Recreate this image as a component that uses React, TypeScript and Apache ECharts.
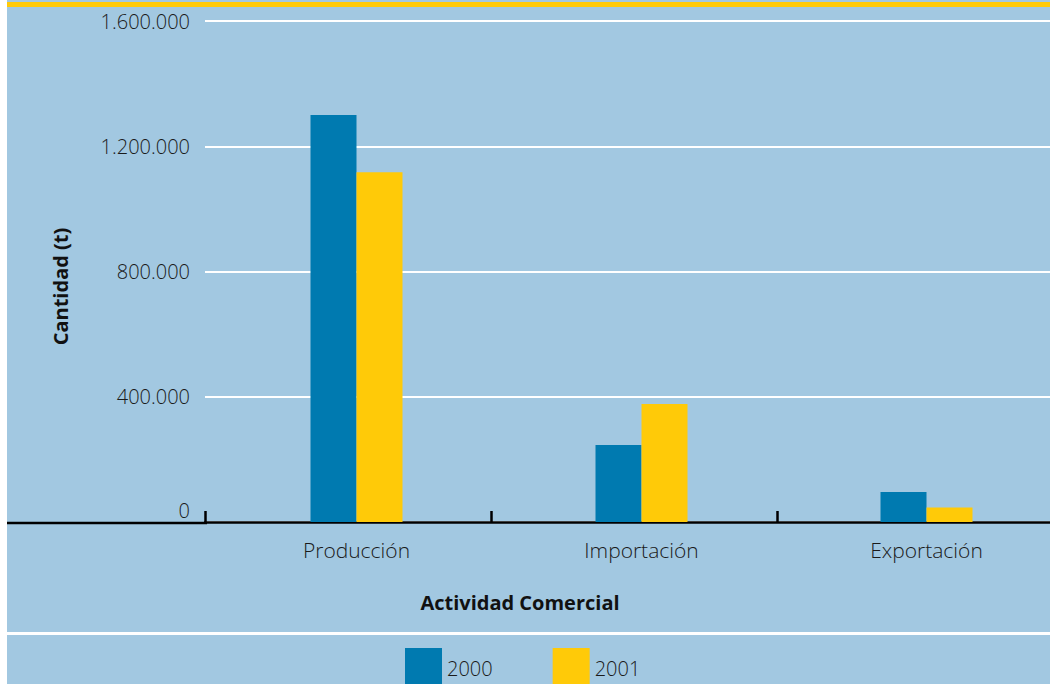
import React, { useEffect, useRef } from "react";
import * as echarts from "echarts";

const categories = ["Producción", "Importación", "Exportación"];
const seriesNames = ["2000", "2001"];
const values2000 = [1300000, 246000, 96000];
const values2001 = [1117000, 377000, 46000];
const yTicks = [0, 400000, 800000, 1200000, 1600000];

const BG = "#a2c8e1";
const BLUE = "#007ab0";
const YELLOW = "#ffca08";
const FONT = "'Open Sans', Lato, sans-serif";

function fmt(v: number): string {
  return String(Math.round(v)).replace(/\B(?=(\d{3})+(?!\d))/g, ".");
}

export default function App() {
  const ref = useRef<HTMLDivElement>(null);
  useEffect(() => {
    if (!ref.current) return;
    const chart = echarts.init(ref.current, undefined, { renderer: "svg" });
    const option: any = {
      animation: false,
      backgroundColor: BG,
      textStyle: { fontFamily: FONT },
      legend: {
        data: seriesNames,
        left: 398,
        top: 648,
        padding: 0,
        itemWidth: 37,
        itemHeight: 40,
        itemGap: 60,
        icon: "rect",
        textStyle: { fontSize: 20, color: "#1a1a1a", fontFamily: FONT, fontWeight: 300 },
      },
      graphic: [
        { type: "rect", shape: { x: 0, y: 2, width: 1043, height: 5 }, style: { fill: YELLOW }, silent: true },
        { type: "rect", shape: { x: 0, y: 632, width: 1043, height: 3 }, style: { fill: "#ffffff" }, silent: true },
        { type: "line", shape: { x1: 0, y1: 523, x2: 200, y2: 523 }, style: { stroke: "#000", lineWidth: 2.5 }, silent: true },
      ],
      grid: [
        { left: 207, top: 21, height: 501, width: 855, outerBoundsMode: "none", containLabel: false },
        { left: 198, top: 21, height: 501, width: 858, outerBoundsMode: "none", containLabel: false },
      ],
      xAxis: [
        {
          type: "category",
          gridIndex: 0,
          data: categories,
          axisLine: { show: false },
          axisTick: { show: false },
          axisLabel: { fontSize: 21, color: "#1a1a1a", margin: 17, fontFamily: FONT, fontWeight: 300 },
          name: "Actividad Comercial",
          nameLocation: "middle",
          nameGap: 70,
          nameTextStyle: {
            fontSize: 20,
            fontWeight: "bold",
            color: "#111",
            fontFamily: FONT,
            padding: [0, 243, 0, 0],
          },
        },
        {
          type: "category",
          gridIndex: 1,
          data: categories,
          boundaryGap: true,
          axisLine: { show: true, lineStyle: { color: "#000", width: 2.5 } },
          axisTick: { show: true, inside: true, length: 11, lineStyle: { color: "#000", width: 2.5 } },
          axisLabel: { show: false },
        },
      ],
      yAxis: [
        {
          type: "value",
          gridIndex: 1,
          min: 0,
          max: 1600000,
          interval: 400000,
          axisLine: { show: false },
          axisTick: { show: false },
          splitLine: { show: true, lineStyle: { color: "#ffffff", width: 2 } },
          axisLabel: {
            fontSize: 20,
            color: "#1a1a1a",
            margin: 15,
            fontFamily: FONT,
            fontWeight: 300,
            formatter: (v: number) =>
              yTicks.indexOf(v) < 0 ? "" : v === 0 ? "{z|0}" : fmt(v),
            rich: {
              z: { fontSize: 20, fontFamily: FONT, fontWeight: 300, color: "#1a1a1a", padding: [0, 0, 24, 0] },
            },
          },
          name: "Cantidad (t)",
          nameLocation: "middle",
          nameRotate: 90,
          nameGap: 135,
          nameTextStyle: {
            fontSize: 20,
            fontWeight: "bold",
            color: "#111",
            fontFamily: FONT,
            padding: [0, 30, 0, 0],
          },
        },
        {
          type: "value",
          gridIndex: 0,
          min: 0,
          max: 1600000,
          interval: 400000,
          show: false,
          splitLine: { show: false },
        },
      ],
      series: [
        {
          name: seriesNames[0],
          type: "bar",
          xAxisIndex: 0,
          yAxisIndex: 1,
          data: values2000,
          barWidth: 46,
          barGap: "0%",
          itemStyle: { color: BLUE },
        },
        {
          name: seriesNames[1],
          type: "bar",
          xAxisIndex: 0,
          yAxisIndex: 1,
          data: values2001,
          barWidth: 46,
          barGap: "0%",
          itemStyle: { color: YELLOW },
        },
      ],
    };
    chart.setOption(option);
    return () => chart.dispose();
  }, []);
  return (
    <div
      ref={ref}
      style={{ position: "absolute", left: 7, top: 0, width: 1043, height: 684 }}
    />
  );
}
